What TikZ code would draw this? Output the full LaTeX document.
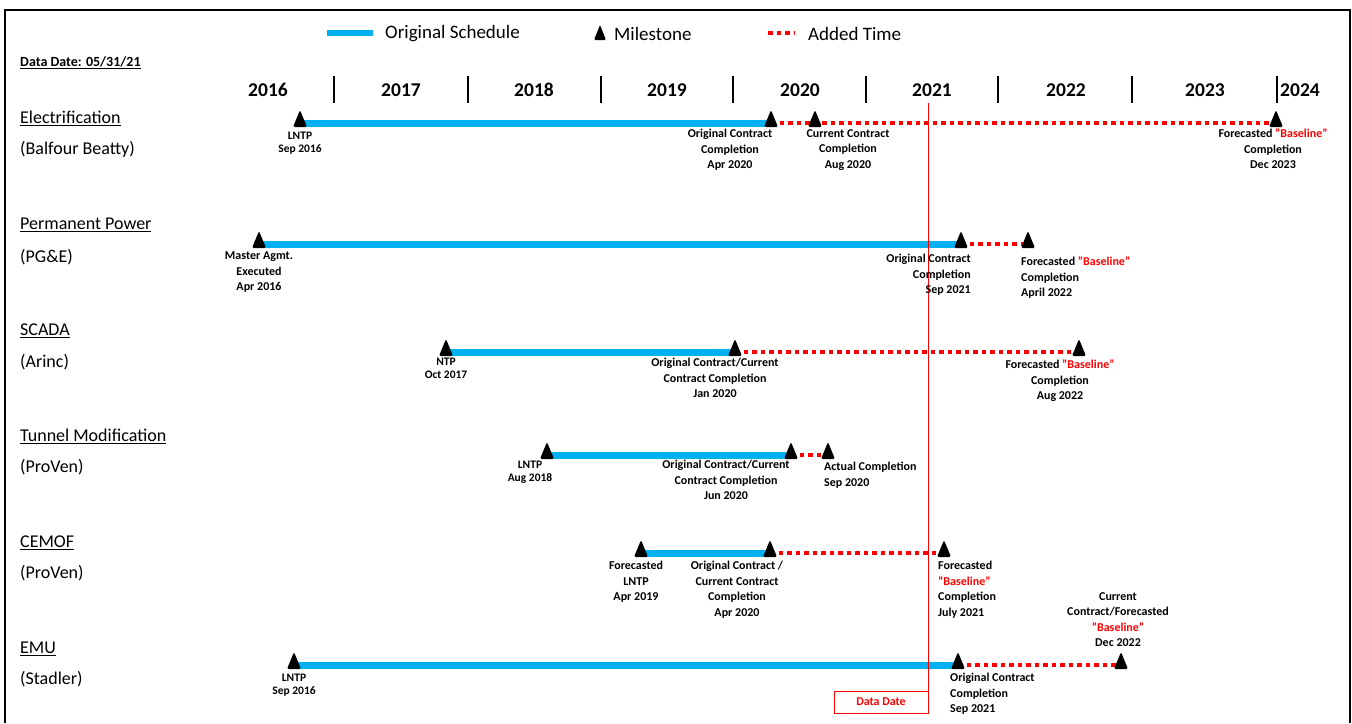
\documentclass[tikz,border=0pt]{standalone}
\usepackage{fontspec}
\setmainfont{Carlito}
\definecolor{barblue}{RGB}{0,176,240}
\definecolor{addred}{RGB}{255,0,0}
\newcommand\bsln{\textcolor{addred}{"Baseline"}}
\begin{document}
\begin{tikzpicture}[x=1pt,y=-1pt,
  sched/.style={barblue,line width=7pt},
  added/.style={addred,line width=4.5pt,dash pattern=on 4.5pt off 4pt},
  lbl/.style={font=\bfseries\fontsize{12}{15.5}\selectfont,align=center,inner sep=0pt,anchor=north},
  lblsm/.style={lbl,font=\bfseries\fontsize{11.5}{13}\selectfont},
  rowtitle/.style={font=\fontsize{18}{20}\selectfont,anchor=west,inner sep=0pt},
  yr/.style={font=\bfseries\fontsize{19.5}{22}\selectfont,inner sep=0pt},
  legtxt/.style={font=\fontsize{19}{22}\selectfont,anchor=west,inner sep=0pt},
  tick/.style={line width=1.5pt},
  milestone/.pic={\fill[black,rounded corners=1.5pt] (-7,4) -- (0,-13) -- (7,4) -- cycle;},
  legms/.pic={\fill[black,rounded corners=1.2pt] (-6,7) -- (0,-8) -- (6,7) -- cycle;}
]
\useasboundingbox (0,0) rectangle (1352,723);
\draw[line width=2pt] (5,723) -- (5,10) -- (1350,10) -- (1350,723);

% legend
\coordinate (lb1) at (327,33); \coordinate (lb2) at (373,33);
\draw[sched,line width=6pt] (lb1) -- (lb2);
\node[legtxt] (lt1) at (385,34) {Original Schedule};
\pic at (600,33) {legms};
\node[legtxt] (lt2) at (614,34) {Milestone};
\coordinate (lr1) at (768,33); \coordinate (lr2) at (795,33);
\draw[added] (lr1) -- (lr2);
\node[legtxt] (lt3) at (808,34) {Added Time};

\node[anchor=west,inner sep=0pt,font=\bfseries\fontsize{14}{16}\selectfont] (dd0) at (20,63) {\underline{Data Date: 05/31/21}};

% years
\foreach \x/\y in {268/2016,401/2017,534/2018,667/2019,800/2020,932/2021,1066/2022,1205/2023,1300/2024}
  \node[yr] (y\y) at (\x,90) {\y};
\foreach \x in {334,468,601,733,866,998,1132,1277}
  \draw[tick] (\x,76) -- (\x,103);

% row titles
\node[rowtitle] (t1) at (20,118) {\underline{Electrification}};
\node[rowtitle] (s1) at (20,149) {(Balfour Beatty)};
\node[rowtitle] (t2) at (20,225) {\underline{Permanent Power}};
\node[rowtitle] (s2) at (20,257) {(PG\&E)};
\node[rowtitle] (t3) at (20,331) {\underline{SCADA}};
\node[rowtitle] (s3) at (20,362) {(Arinc)};
\node[rowtitle] (t4) at (20,436) {\underline{Tunnel Modification}};
\node[rowtitle] (s4) at (20,467) {(ProVen)};
\node[rowtitle] (t5) at (20,543) {\underline{CEMOF}};
\node[rowtitle] (s5) at (20,573) {(ProVen)};
\node[rowtitle] (t6) at (20,649) {\underline{EMU}};
\node[rowtitle] (s6) at (20,679) {(Stadler)};

% milestone coordinates
\coordinate (a1) at (300,123); \coordinate (a2) at (771,123); \coordinate (a3) at (815,123); \coordinate (a4) at (1276,123);
\coordinate (b1) at (259,244); \coordinate (b2) at (961,244); \coordinate (b3) at (1028,244);
\coordinate (c1) at (446,352); \coordinate (c2) at (735,352); \coordinate (c3) at (1079,352);
\coordinate (d1) at (547,455); \coordinate (d2) at (791,455); \coordinate (d3) at (828,455);
\coordinate (e1) at (641,553); \coordinate (e2) at (770,553); \coordinate (e3) at (944,553);
\coordinate (f1) at (294,665); \coordinate (f2) at (958,665); \coordinate (f3) at (1121,665);

% data date
\node[draw=addred,line width=1pt,minimum width=94pt,minimum height=22pt,inner sep=0pt,text=addred,font=\bfseries\fontsize{12}{14}\selectfont] (ddbox) at (881,702) {Data Date};
\coordinate (ddtop) at (ddbox.east |- 0,103);

% bars
\draw[sched] (a1) -- (a2); \draw[added] (a2) -- (a4);
\draw[sched] (b1) -- (b2); \draw[added] (b2) -- (b3);
\draw[sched] (c1) -- (c2); \draw[added] (c2) -- (c3);
\draw[sched] (d1) -- (d2); \draw[added] (d2) -- (d3);
\draw[sched] (e1) -- (e2); \draw[added] (e2) -- (e3);
\draw[sched] (f1) -- (f2); \draw[added] (f2) -- (f3);

\draw[addred,line width=1.3pt] (ddtop) -- (ddbox.south east);

% milestones
\foreach \m in {a1,a2,a3,a4,b1,b2,b3,c1,c2,c3,d1,d2,d3,e1,e2,e3,f1,f2,f3}
  \pic at (\m) {milestone};

% labels
\node[lblsm] (la1) at (300,132) {LNTP\\Sep 2016};
\node[lbl] (la2) at (730,129) {Original Contract\\Completion\\Apr 2020};
\node[lbl] (la3) at (848,129) {Current Contract\\Completion\\Aug 2020};
\node[lbl] (la4) at (1273,129) {Forecasted \bsln\\Completion\\Dec 2023};

\node[lbl] (lb1) at (259,252) {Master Agmt.\\Executed\\Apr 2016};
\node[lbl,anchor=north east,align=right] (lb2) at (971,254) {Original Contract\\Completion\\Sep 2021};
\node[lbl,anchor=north west,align=left] (lb3) at (1021,257) {Forecasted \bsln\\Completion\\April 2022};

\node[lblsm] (lc1) at (446,358) {NTP\\Oct 2017};
\node[lbl] (lc2) at (715,358) {Original Contract/Current\\Contract Completion\\Jan 2020};
\node[lbl] (lc3) at (1060,360) {Forecasted \bsln\\Completion\\Aug 2022};

\node[lblsm] (ld1) at (530,461) {LNTP\\Aug 2018};
\node[lbl] (ld2) at (726,460) {Original Contract/Current\\Contract Completion\\Jun 2020};
\node[lbl,anchor=north west,align=left] (ld3) at (824,462) {Actual Completion\\Sep 2020};

\node[lbl] (le1) at (636,561) {Forecasted\\LNTP\\Apr 2019};
\node[lbl] (le2) at (737,561) {Original Contract /\\Current Contract\\Completion\\Apr 2020};
\node[lbl,anchor=north west,align=left] (le3) at (938,561) {Forecasted\\\bsln\\Completion\\July 2021};
\node[lbl] (le4) at (1118,592) {Current\\Contract/Forecasted\\\bsln\\Dec 2022};

\node[lblsm] (lf1) at (294,674) {LNTP\\Sep 2016};
\node[lbl,anchor=north west,align=left] (lf2) at (950,673) {Original Contract\\Completion\\Sep 2021};
\end{tikzpicture}
\end{document}
